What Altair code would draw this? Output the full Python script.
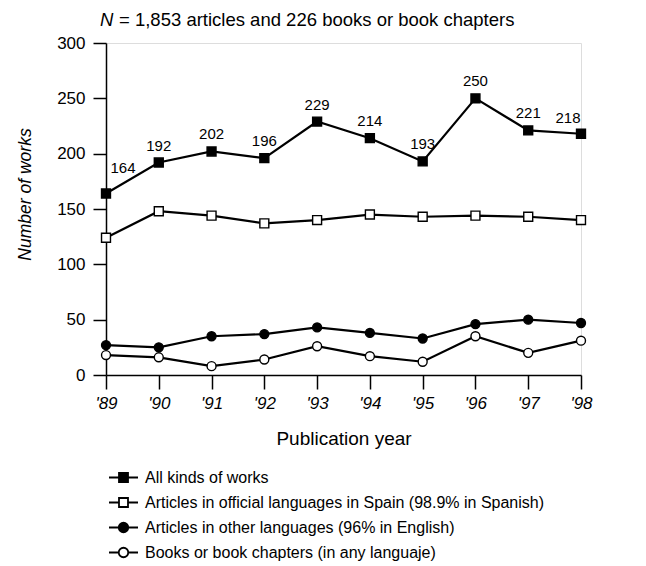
import altair as alt
import pandas as pd

years = ["'89", "'90", "'91", "'92", "'93", "'94", "'95", "'96", "'97", "'98"]
series_names = [
    "All kinds of works",
    "Articles in official languages in Spain (98.9% in Spanish)",
    "Articles in other languages (96% in English)",
    "Books or book chapters (in any languaje)",
]
all_works = [164, 192, 202, 196, 229, 214, 193, 250, 221, 218]
official = [124, 148, 144, 137, 140, 145, 143, 144, 143, 140]
other_lang = [27, 25, 35, 37, 43, 38, 33, 46, 50, 47]
books = [18, 16, 8, 14, 26, 17, 12, 35, 20, 31]
y_ticks = [0, 50, 100, 150, 200, 250, 300]

rows = []
for name, vals in zip(series_names, [all_works, official, other_lang, books]):
    for yr, v in zip(years, vals):
        rows.append({"year": yr, "series": name, "value": v})
df = pd.DataFrame(rows)

FONT = "Liberation Sans"

x_enc = alt.X(
    "year:O",
    sort=years,
    scale=alt.Scale(type="point", padding=0),
    axis=alt.Axis(
        title="Publication year",
        labelAngle=0,
        labelFontStyle="italic",
        labelFont=FONT,
        labelFontSize=17,
        labelColor="black",
        labelPadding=6,
        tickSize=14,
        tickColor="black",
        tickWidth=1.5,
        domainColor="black",
        domainWidth=1.5,
        titleFont=FONT,
        titleFontSize=19,
        titleFontWeight="normal",
        titleColor="black",
        titleY=63,
        titleBaseline="middle",
        grid=False,
    ),
)
y_enc = alt.Y(
    "value:Q",
    scale=alt.Scale(domain=[0, 300], nice=False),
    axis=alt.Axis(
        title="Number of works",
        values=y_ticks,
        labelFont=FONT,
        labelFontSize=17,
        labelColor="black",
        labelPadding=8,
        tickSize=13,
        tickColor="black",
        tickWidth=1.5,
        domainColor="black",
        domainWidth=1.5,
        titleFont=FONT,
        titleFontSize=17.5,
        titleFontWeight="normal",
        titleFontStyle="italic",
        titleColor="black",
        titleX=-81,
        titleY=151,
        titleBaseline="middle",
        titleAngle=270,
        grid=False,
    ),
)

base = alt.Chart(df)

lines = base.mark_line(color="black", strokeWidth=2.2).encode(
    x=x_enc, y=y_enc, detail="series:N"
)

def pts(name, shape, fill, size):
    return base.transform_filter(alt.datum.series == name).mark_point(
        shape=shape, filled=True, fill=fill, stroke="black", strokeWidth=1.4,
        size=size, opacity=1
    ).encode(x=x_enc, y=y_enc)

p1 = pts(series_names[0], "square", "black", 80)
p2 = pts(series_names[1], "square", "white", 80)
p3 = pts(series_names[2], "circle", "black", 80)
p4 = pts(series_names[3], "circle", "white", 80)

sym_paths = [
    "M-1.16,0H1.16M-0.36,-0.36H0.36V0.36H-0.36Z",
    "M-1.16,0H-0.36M0.36,0H1.16M-0.36,-0.36H0.36V0.36H-0.36Z",
    "M-1.16,0H1.16M0.38,0A0.38,0.38,0,1,1,-0.38,0A0.38,0.38,0,1,1,0.38,0Z",
    "M-1.16,0H-0.38M0.38,0H1.16M0.38,0A0.38,0.38,0,1,1,-0.38,0A0.38,0.38,0,1,1,0.38,0Z",
]
leg = alt.Legend(
    title=None,
    orient="none",
    legendX=4,
    legendY=421,
    direction="vertical",
    labelFont=FONT,
    labelFontSize=16,
    labelColor="black",
    labelOffset=8,
    symbolSize=625,
    rowPadding=3,
    labelLimit=600,
    symbolStrokeColor="black",
    symbolStrokeWidth=1.8,
    symbolOpacity=1,
)
legend_layer = base.mark_point(opacity=0, filled=True, strokeWidth=1.8).encode(
    x=x_enc,
    y=y_enc,
    shape=alt.Shape("series:N", scale=alt.Scale(domain=series_names, range=sym_paths), legend=leg),
    fill=alt.Fill("series:N", scale=alt.Scale(domain=series_names, range=["black", "white", "black", "white"]), legend=leg),
    stroke=alt.Stroke("series:N", scale=alt.Scale(domain=series_names, range=["black", "black", "black", "black"]), legend=leg),
)

lab_base = base.transform_filter(alt.datum.series == series_names[0])
labels_mid = lab_base.transform_filter(
    (alt.datum.year != "'89") & (alt.datum.year != "'98")
).mark_text(font=FONT, fontSize=15, color="black", dy=-17, baseline="middle").encode(
    x=x_enc, y=y_enc, text="value:Q"
)
label_first = lab_base.transform_filter(alt.datum.year == "'89").mark_text(
    font=FONT, fontSize=15, color="black", dx=17, dy=-26, baseline="middle"
).encode(x=x_enc, y=y_enc, text="value:Q")
label_last = lab_base.transform_filter(alt.datum.year == "'98").mark_text(
    font=FONT, fontSize=15, color="black", dx=-13, dy=-16, baseline="middle"
).encode(x=x_enc, y=y_enc, text="value:Q")

title_n = alt.Chart(pd.DataFrame({"t": ["N"]})).mark_text(
    font=FONT, fontSize=18.5, fontStyle="italic", align="left", baseline="middle", color="black"
).encode(x=alt.value(-6), y=alt.value(-23), text="t:N")
title_rest = alt.Chart(pd.DataFrame({"t": ["= 1,853 articles and 226 books or book chapters"]})).mark_text(
    font=FONT, fontSize=18.5, align="left", baseline="middle", color="black"
).encode(x=alt.value(13), y=alt.value(-23), text="t:N")

chart = alt.layer(
    lines, p1, p2, p3, p4, legend_layer, labels_mid, label_first, label_last, title_n, title_rest
).properties(
    width=475,
    height=332,
    autosize=alt.AutoSizeParams(type="none"),
    padding={"left": 98, "top": 35, "right": 50, "bottom": 190},
).configure_view(
    stroke="black", strokeWidth=1.5
).configure(background="white")

chart.save("out.html", embed_options={"renderer": "svg", "actions": False})
